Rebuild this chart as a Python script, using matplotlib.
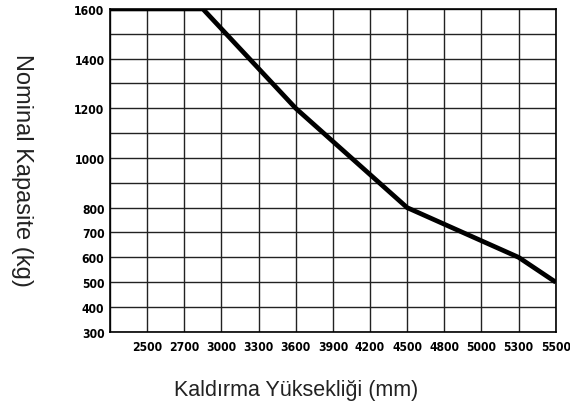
import numpy as np
import matplotlib
matplotlib.use('Agg')
import matplotlib.pyplot as plt

# x axis: evenly spaced columns with uneven mm values
x_ticks = [2500, 2700, 3000, 3300, 3600, 3900, 4200, 4500, 4800, 5000, 5300, 5500]
x_left = 2300  # left edge of the plot (one column before 2500)
y_ticks = [300, 400, 500, 600, 700, 800, 1000, 1200, 1400, 1600]

# load curve
height_mm = [2300, 2850, 3600, 4500, 5300, 5500]
capacity_kg = [1600, 1600, 1200, 800, 600, 500]

edges = np.array([x_left] + x_ticks, dtype=float)
cols = np.arange(len(edges), dtype=float)

def fwd(x):
    return np.interp(x, edges, cols)

def inv(c):
    return np.interp(c, cols, edges)

fig = plt.figure(figsize=(5.7, 4.14), dpi=100)
ax = fig.add_axes([0.193, 0.196, 0.782, 0.780])
ax.set_xscale('function', functions=(fwd, inv))

ax.plot(height_mm, capacity_kg, color='black', lw=3.4, solid_capstyle='butt',
        solid_joinstyle='miter', zorder=3)

ax.set_xlim(x_left, x_ticks[-1])
ax.set_ylim(300, 1600)

ax.set_xticks(x_ticks)
ax.set_xticklabels([str(v) for v in x_ticks])
ax.set_xticks(edges, minor=True)
ax.set_yticks(y_ticks)
ax.set_yticklabels([str(v) for v in y_ticks])
ax.set_yticks(np.arange(300, 1601, 100), minor=True)

ax.grid(True, which='both', color='#222222', lw=1.0)
ax.set_axisbelow(True)
for s in ax.spines.values():
    s.set_color('black')
    s.set_linewidth(1.2)

for lab in ax.get_xticklabels() + ax.get_yticklabels():
    lab.set_fontfamily('DejaVu Sans')
    lab.set_fontstretch('condensed')
    lab.set_fontweight('bold')
    lab.set_fontsize(8.7)
ax.tick_params(which='both', length=0)
ax.tick_params(axis='y', pad=4)
ax.tick_params(axis='x', pad=6)

fig.text(0.519, 0.056, 'Kaldırma Yüksekliği (mm)', ha='center', va='center',
         fontsize=15.5, family='Liberation Sans', color='#222222')
fig.text(0.038, 0.589, 'Nominal Kapasite (kg)', ha='center', va='center',
         rotation=270, fontsize=17, family='Liberation Sans', color='#222222')

fig.savefig('out.png', dpi=100)
